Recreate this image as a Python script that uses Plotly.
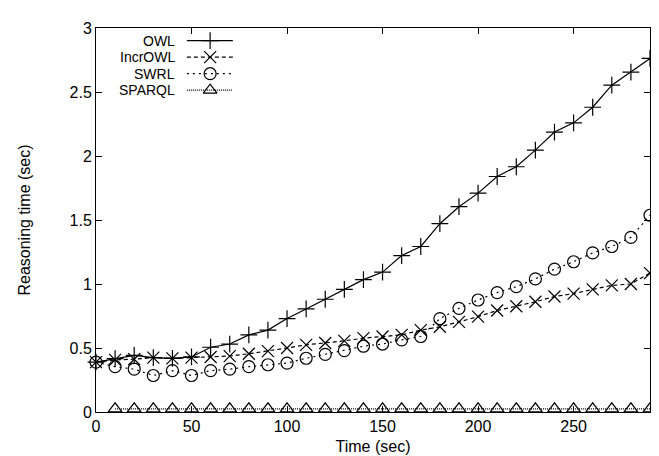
import plotly.graph_objects as go

# ---- data ----
time = [0, 10, 20, 30, 40, 50, 60, 70, 80, 90, 100, 110, 120, 130, 140,
        150, 160, 170, 180, 190, 200, 210, 220, 230, 240, 250, 260, 270, 280, 290]
owl = [0.39, 0.417, 0.442, 0.425, 0.419, 0.43, 0.506, 0.531, 0.602, 0.64,
       0.73, 0.805, 0.881, 0.958, 1.034, 1.093, 1.222, 1.293, 1.471, 1.604,
       1.71, 1.84, 1.916, 2.046, 2.187, 2.259, 2.381, 2.553, 2.655, 2.762]
incrowl = [0.39, 0.407, 0.412, 0.425, 0.419, 0.425, 0.43, 0.437, 0.455, 0.475,
           0.50, 0.525, 0.539, 0.556, 0.577, 0.59, 0.602, 0.64, 0.666, 0.704,
           0.745, 0.793, 0.826, 0.861, 0.902, 0.925, 0.958, 0.989, 1.00, 1.085]
swrl = [0.39, 0.354, 0.335, 0.285, 0.323, 0.285, 0.323, 0.335, 0.354, 0.369,
        0.382, 0.42, 0.45, 0.48, 0.514, 0.531, 0.564, 0.59, 0.729, 0.81,
        0.875, 0.933, 0.979, 1.04, 1.116, 1.174, 1.243, 1.293, 1.364, 1.537]
sparql_time = time[1:]
sparql = [0.025] * len(sparql_time)

names = ["OWL", "IncrOWL", "SWRL", "SPARQL"]
x_ticks = [0, 50, 100, 150, 200, 250]
y_ticks = [0, 0.5, 1, 1.5, 2, 2.5, 3]

# ---- styles ----
FONT = "Liberation Sans, Arial, sans-serif"
FS = 16
KEY_FS = 14
styles = {
    "OWL": dict(dash="solid", symbol="cross-thin-open"),
    "IncrOWL": dict(dash="4px,3px", symbol="x-thin-open"),
    "SWRL": dict(dash="2px,4px", symbol="circle-open"),
    "SPARQL": dict(dash="1px,1px", symbol="triangle-up-open"),
}
series = {"OWL": (time, owl), "IncrOWL": (time, incrowl),
          "SWRL": (time, swrl), "SPARQL": (sparql_time, sparql)}

fig = go.Figure()
for n in names:
    xs, ys = series[n]
    st = styles[n]
    fig.add_trace(go.Scatter(
        x=xs, y=ys, mode="lines+markers", name=n, showlegend=False,
        line=dict(color="black", width=1.2, dash=st["dash"]),
        marker=dict(symbol=st["symbol"], size=12, color="black",
                    line=dict(color="black", width=1.2)),
        cliponaxis=False,
    ))

# ---- gnuplot-style key (text left, sample right) ----
key_rows = [0.967, 0.924, 0.881, 0.838]
key_text_x = 0.145
key_line = [0.164, 0.247]
key_mark = 0.206
for n, ky in zip(names, key_rows):
    st = styles[n]
    fig.add_trace(go.Scatter(
        x=key_line, y=[ky, ky], xaxis="x2", yaxis="y2", mode="lines",
        showlegend=False, hoverinfo="skip",
        line=dict(color="black", width=1.2, dash=st["dash"])))
    fig.add_trace(go.Scatter(
        x=[key_mark], y=[ky], xaxis="x2", yaxis="y2", mode="markers",
        showlegend=False, hoverinfo="skip",
        marker=dict(symbol=st["symbol"], size=12, color="black",
                    line=dict(color="black", width=1.2))))
    fig.add_annotation(x=key_text_x, y=ky, xref="paper", yref="paper",
                       text=n, showarrow=False, xanchor="right", yanchor="middle",
                       borderpad=0,
                       font=dict(family=FONT, size=KEY_FS, color="black"))

axis_common = dict(showline=True, linecolor="black", linewidth=1, mirror="ticks",
                   ticks="inside", ticklen=6, tickwidth=1, tickcolor="black",
                   showgrid=False, zeroline=False,
                   tickfont=dict(family=FONT, size=FS, color="black"))

fig.update_layout(
    width=659, height=456,
    margin=dict(l=88, r=17, t=12, b=50),
    paper_bgcolor="white", plot_bgcolor="white",
    font=dict(family=FONT, size=FS, color="black"),
    xaxis=dict(range=[0, 290], tickvals=x_ticks,
               title=dict(text="Time (sec)", standoff=6,
                          font=dict(family=FONT, size=FS)), **axis_common),
    yaxis=dict(range=[0, 3], tickvals=y_ticks,
               ticktext=[f"{v:g}" for v in y_ticks],
               title=dict(text="Reasoning time (sec)", standoff=34,
                          font=dict(family=FONT, size=FS)), **axis_common),
    xaxis2=dict(range=[0, 1], overlaying="x", visible=False, fixedrange=True),
    yaxis2=dict(range=[0, 1], overlaying="y", visible=False, fixedrange=True),
)

fig.write_html("out.html")
